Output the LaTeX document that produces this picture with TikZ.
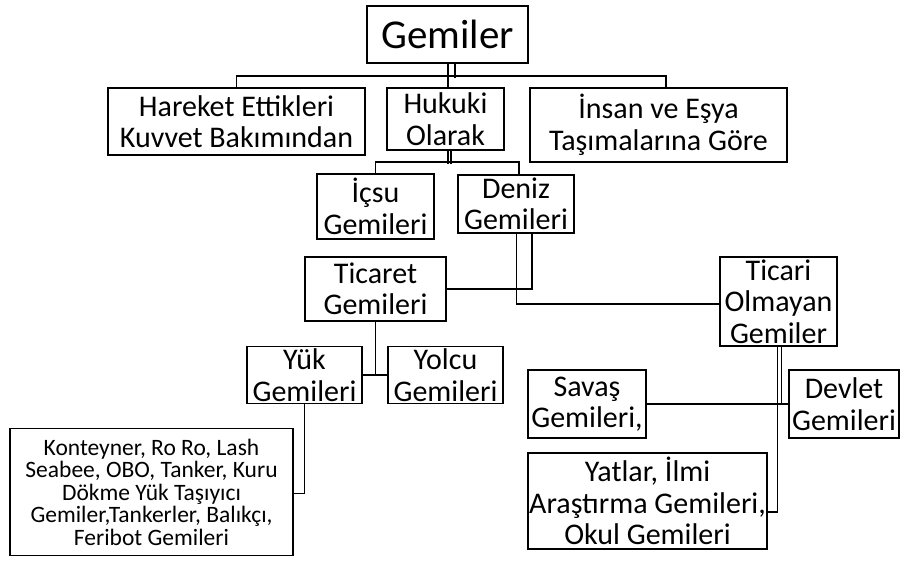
\documentclass[tikz,border=0pt]{standalone}
\usepackage{fontspec}
\setmainfont{Carlito}
\usepackage{tikz}
\usetikzlibrary{positioning,calc}

\begin{document}
\begin{tikzpicture}[x=1pt,y=-1pt,
        box/.style={draw, line width=1.8pt, inner sep=0pt, align=center,
            font=\fontsize{30}{31.5}\selectfont},
        link/.style={line width=1.5pt}]
            \useasboundingbox (0,0) rectangle (901,563);

            % top
            \node[box, minimum width=161pt, minimum height=57pt,
                font=\fontsize{41}{44}\selectfont] (gem) at (447.5,34.5) {Gemiler};

            % first level
            \node[box, minimum width=257pt, minimum height=67pt] (har) at (236.5,121.5) {Hareket Ettikleri\\Kuvvet Bakımından};
            \node[box, minimum width=117pt, minimum height=62pt] (huk) at (445.5,119) {Hukuki\\Olarak};
            \node[box, minimum width=257pt, minimum height=74pt] (ins) at (658.5,125) {İnsan ve Eşya\\Taşımalarına Göre};

            % hukuki
            \node[box, minimum width=117pt, minimum height=65pt] (icsu) at (375.5,206.5) {İçsu\\Gemileri};
            \node[box, minimum width=116pt, minimum height=58pt] (den) at (516,204) {Deniz\\Gemileri};

            % deniz
            \node[box, minimum width=141pt, minimum height=64pt] (tic) at (375.5,289) {Ticaret\\Gemileri};
            \node[box, minimum width=117pt, minimum height=89pt] (tom) at (778.5,301.5) {Ticari\\Olmayan\\Gemiler};

            % ticaret
            \node[box, minimum width=115pt, minimum height=57pt] (yuk) at (304.5,375) {Yük\\Gemileri};
            \node[box, minimum width=115pt, minimum height=57pt] (yol) at (445.5,375) {Yolcu\\Gemileri};
            \node[box, minimum width=283pt, minimum height=127pt,
                font=\fontsize{23.5}{22.5}\selectfont] (kon) at (151.5,492)
                {Konteyner, Ro Ro, Lash\\Seabee, OBO, Tanker, Kuru\\Dökme Yük Taşıyıcı\\Gemiler,Tankerler, Balıkçı,\\Feribot Gemileri};

            % ticari olmayan
            \node[box, minimum width=118pt, minimum height=68pt] (sav) at (587,404) {Savaş\\Gemileri,};
            \node[box, minimum width=110pt, minimum height=68pt] (dev) at (844,404) {Devlet\\Gemileri};
            \node[box, minimum width=239pt, minimum height=96pt] (yat) at (647.5,501) {Yatlar, İlmi\\Araştırma Gemileri,\\Okul Gemileri};

            % connectors
            \draw[link] ([xshift=0.5pt]gem.south) -- ([xshift=0.5pt]gem.south |- huk.north);
            \draw[link] ([xshift=7.5pt]gem.south) -- ++(0,14);
            \draw[link] (har.north) -- ++(0,-11) -| ([xshift=7.5pt]ins.north);

            \draw[link] ([xshift=2.5pt]huk.south) -- ++(0,13);
            \draw[link] ([xshift=5.5pt]huk.south) -- ++(0,13);
            \draw[link] (icsu.north) -- ++(0,-11) -| ([xshift=3pt]den.north);

            \draw[link] ([xshift=16pt]den.south) |- (tic.east);
            \draw[link] ([xshift=0.5pt]den.south) |- ([yshift=-2.5pt]tom.west);

            \draw[link] (tic.south) -- (tic.south |- yuk.east);
            \draw[link] (yuk.east) -- (yol.west);
            \draw[link] (yuk.south) |- ([yshift=-1.5pt]kon.east);

            \draw[link] ([xshift=3pt]tom.south) -- ([xshift=3pt]tom.south |- sav.east);
            \draw[link] (sav.east) -- (dev.west);
            \draw[link] ([xshift=-1pt]tom.south) |- ([yshift=-11pt]yat.east);
        \end{tikzpicture}
\end{document}
